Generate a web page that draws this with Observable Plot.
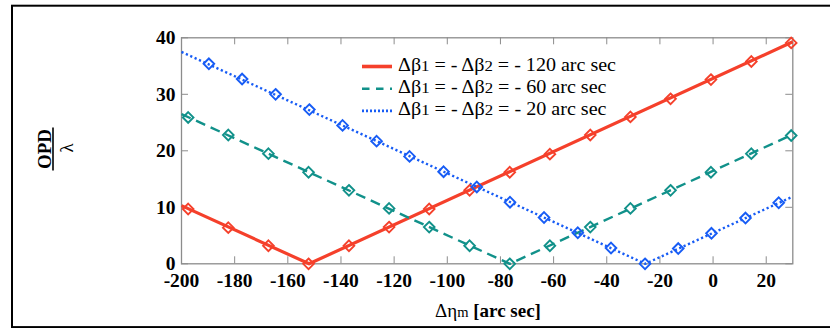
<!DOCTYPE html>
<html><head><meta charset="utf-8">
<script src="https://cdn.jsdelivr.net/npm/d3@7"></script>
<script src="https://cdn.jsdelivr.net/npm/@observablehq/plot@0.6"></script>
<style>body{margin:0;background:#fff;} svg{display:block}</style>
</head><body><div id="chart"></div>
<script>
// ---- data ----
const xTicks = [-200, -180, -160, -140, -120, -100, -80, -60, -40, -20, 0, 20];
const yTicks = [0, 10, 20, 30, 40];
const seriesNames = [
  "Δβ1 = - Δβ2 = - 120 arc sec",
  "Δβ1 = - Δβ2 = - 60 arc sec",
  "Δβ1 = - Δβ2 = - 20 arc sec"
];
// line vertices
const line120X = [-200, -152, 30];
const line120Y = [10.3, 0, 39.3];
const line60X = [-200, -76.5, 30];
const line60Y = [26.5, 0, 22.9];
const line20X = [-200, -25.5, 30];
const line20Y = [37.5, 0, 11.9];
// markers
const mark120X = [-197.5, -182.4, -167.3, -152.2, -137.0, -121.9, -106.8, -91.6, -76.5, -61.4, -46.2, -31.1, -16.0, -0.8, 14.4, 29.4];
const mark120Y = [9.7, 6.4, 3.2, 0, 3.2, 6.5, 9.7, 13.0, 16.2, 19.4, 22.8, 26.0, 29.2, 32.6, 35.8, 39.1];
const mark60X = [-197.5, -182.4, -167.3, -152.2, -137.0, -121.9, -106.8, -91.6, -76.5, -61.4, -46.2, -31.1, -16.0, -0.8, 14.4, 29.4];
const mark60Y = [25.9, 22.8, 19.5, 16.2, 13.0, 9.8, 6.5, 3.2, 0, 3.2, 6.5, 9.8, 13.0, 16.2, 19.5, 22.7];
const mark20X = [-189.7, -177.2, -164.6, -151.9, -139.4, -126.6, -114.2, -101.4, -88.9, -76.4, -63.6, -50.9, -38.4, -25.6, -13.1, -0.6, 12.2, 24.7];
const mark20Y = [35.4, 32.7, 30.0, 27.3, 24.5, 21.7, 19.0, 16.3, 13.6, 10.9, 8.2, 5.5, 2.8, 0, 2.7, 5.4, 8.1, 10.8];

// ---- styles ----
const colors = ["#f5402b", "#11918a", "#175cf5"];
const dashes = [null, "10,6", "2.2,2.6"];
const widths = [3.2, 2.4, 2.4];
const W = 830, H = 328, mL = 181, mR = 37.7, mT = 37.3, mB = 64.7;
const innerW = W - mL - mR, innerH = H - mT - mB;
const tickLen = 7;
const axisGray = "#8c8c8c";
const serif = "'Liberation Serif', 'Times New Roman', serif";

const zip = (xs, ys) => xs.map((x, i) => ({x, y: ys[i]}));
const lineData = [zip(line120X, line120Y), zip(line60X, line60Y), zip(line20X, line20Y)];
const markData = [zip(mark120X, mark120Y), zip(mark60X, mark60Y), zip(mark20X, mark20Y)];

const seriesMarks = [];
for (let i = 0; i < 3; i++) {
  seriesMarks.push(Plot.line(lineData[i], {x: "x", y: "y", stroke: colors[i], strokeWidth: widths[i], strokeDasharray: dashes[i], strokeLinecap: "butt"}));
}
for (let i = 0; i < 3; i++) {
  seriesMarks.push(Plot.dot(markData[i], {x: "x", y: "y", symbol: "diamond2", r: 4.8, stroke: colors[i], strokeWidth: 1.9, fill: "none"}));
}

const plot = Plot.plot({
  width: W, height: H,
  marginLeft: mL, marginRight: mR, marginTop: mT, marginBottom: mB,
  style: {fontFamily: serif, color: "black", background: "white", overflow: "visible"},
  x: {domain: [-200, 30]},
  y: {domain: [0, 40]},
  marks: [
    Plot.tickX(xTicks, {x: d => d, insetTop: innerH - tickLen, stroke: axisGray}),
    Plot.tickX(xTicks, {x: d => d, insetBottom: innerH - tickLen, stroke: axisGray}),
    Plot.tickY(yTicks, {y: d => d, insetRight: innerW - tickLen, stroke: axisGray}),
    Plot.tickY(yTicks, {y: d => d, insetLeft: innerW - tickLen, stroke: axisGray}),
    Plot.frame({stroke: axisGray, strokeWidth: 1.3}),
    Plot.axisX({ticks: xTicks, tickSize: 0, tickPadding: 9, tickFormat: d => String(d), fontSize: 19.5, fontWeight: "bold", label: null}),
    Plot.axisY({ticks: yTicks, tickSize: 0, tickPadding: 6, tickFormat: d => String(d), fontSize: 19.5, fontWeight: "bold", label: null}),
    ...seriesMarks
  ]
});
document.getElementById("chart").appendChild(plot);

const svg = d3.select(plot);
// outer frame
svg.append("rect").attr("x", 12).attr("y", 5.7).attr("width", 840).attr("height", 321.4)
  .attr("fill", "none").attr("stroke", "black").attr("stroke-width", 2);

// legend
const legX0 = 362, legX1 = 392, legTextX = 398, legBase = 70.5, legStep = 22.2;
const legWidths = [218, 208.5, 208.5];
seriesNames.forEach((name, i) => {
  const base = legBase + i * legStep;
  svg.append("line").attr("x1", legX0).attr("x2", legX1).attr("y1", base - 4).attr("y2", base - 4)
    .attr("stroke", colors[i]).attr("stroke-width", i === 0 ? 3.6 : 2.6)
    .attr("stroke-dasharray", i === 0 ? null : (i === 1 ? "7.5,6.5" : "2,2"));
  const t = svg.append("text").attr("x", legTextX).attr("y", base).attr("text-anchor", "start")
    .attr("font-family", serif).attr("font-size", 18.5).attr("fill", "black")
    .attr("textLength", legWidths[i]).attr("lengthAdjust", "spacingAndGlyphs");
  const parts = name.match(/^Δβ1( = - )Δβ2( = - .*)$/);
  t.append("tspan").text("Δβ");
  t.append("tspan").attr("font-size", 15.5).text("1");
  t.append("tspan").text(parts[1] + "Δβ");
  t.append("tspan").attr("font-size", 15.5).text("2");
  t.append("tspan").text(parts[2]);
});

// x label
const xl = svg.append("text").attr("x", 488).attr("y", 316.5).attr("text-anchor", "middle")
  .attr("font-family", serif).attr("font-size", 19).attr("fill", "black");
xl.append("tspan").text("Δη");
xl.append("tspan").attr("font-size", 14.5).text("m");
xl.append("tspan").attr("font-weight", "bold").text(" [arc sec]");

// y label (fraction)
const yl = svg.append("g").attr("transform", "translate(53,149) rotate(-90)");
yl.append("text").attr("x", 0).attr("y", -2.5).attr("text-anchor", "middle")
  .attr("font-family", serif).attr("font-size", 19).attr("font-weight", "bold").attr("fill", "black").text("OPD");
yl.append("line").attr("x1", -21.5).attr("x2", 21.5).attr("y1", 0).attr("y2", 0)
  .attr("stroke", "black").attr("stroke-width", 1.6);
yl.append("text").attr("x", 1).attr("y", 20).attr("text-anchor", "middle")
  .attr("font-family", serif).attr("font-size", 19).attr("fill", "black").text("λ");
</script>
</body></html>
